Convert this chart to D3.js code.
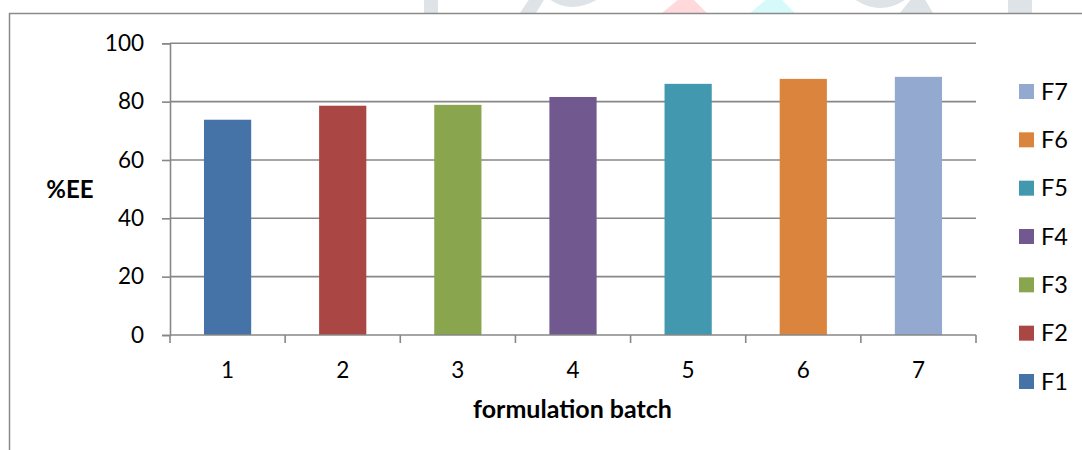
<!DOCTYPE html>
<html>
<head>
<meta charset="utf-8">
<script src="https://cdn.jsdelivr.net/npm/d3@7/dist/d3.min.js"></script>
<style>
  html, body { margin: 0; padding: 0; background: #ffffff; }
  svg { display: block; }
  text { font-family: Lato, "Open Sans", "Liberation Sans", sans-serif; fill: #000; }
</style>
</head>
<body>
<svg id="chart" width="1082" height="450"></svg>
<script>
// Entrapment efficiency per formulation batch
const batches = ["1", "2", "3", "4", "5", "6", "7"];
const seriesNames = ["F1", "F2", "F3", "F4", "F5", "F6", "F7"];
const eeValues = [73.8, 78.6, 78.9, 81.6, 86.1, 87.8, 88.5];
const seriesColors = ["#4572A7", "#AA4643", "#89A54E", "#71588F", "#4198AF", "#DB843D", "#93A9CF"];
const yTicks = [0, 20, 40, 60, 80, 100];

const svg = d3.select("#chart");

// faint page artwork peeking above the chart frame
const deco = svg.append("g");
deco.append("rect").attr("x", 424).attr("y", -2).attr("width", 14).attr("height", 15).attr("fill", "#dde3e6");
deco.append("polygon").attr("points", "520,13 530,-2 545,-2 536,13").attr("fill", "#dde3e6");
deco.append("path").attr("d", "M548,-2 Q570,16 600,-2 Z").attr("fill", "#dde3e6");
deco.append("polygon").attr("points", "662,13 680,-2 692,-2 707,13").attr("fill", "#ffd9dc");
deco.append("polygon").attr("points", "750,13 768,-2 780,-2 795,13").attr("fill", "#d6fafa");
deco.append("path").attr("d", "M853,-2 Q880,18 908,-2 Z").attr("fill", "#dde3e6");
deco.append("polygon").attr("points", "900,13 912,-2 924,-2 933,13").attr("fill", "#dde3e6");
deco.append("rect").attr("x", 1008).attr("y", -2).attr("width", 24).attr("height", 15).attr("fill", "#dde3e6");

// chart frame (top and left edges visible)
svg.append("line").attr("x1", 9).attr("x2", 1082).attr("y1", 13.5).attr("y2", 13.5)
  .attr("stroke", "#8a8a8a").attr("stroke-width", 1.5);
svg.append("line").attr("x1", 9.5).attr("x2", 9.5).attr("y1", 13).attr("y2", 450)
  .attr("stroke", "#8a8a8a").attr("stroke-width", 1.5);

const plot = { left: 170, right: 976, top: 43.3, bottom: 335 };

const x = d3.scaleBand().domain(batches).range([plot.left, plot.right]).paddingInner(0.59).paddingOuter(0.295);
const xTickScale = d3.scaleBand().domain(batches).range([plot.left, plot.right]);
const y = d3.scaleLinear().domain([0, 100]).range([plot.bottom, plot.top]);

// horizontal gridlines
svg.append("g").selectAll("line").data(yTicks.filter(t => t > 0)).join("line")
  .attr("x1", plot.left).attr("x2", plot.right)
  .attr("y1", d => y(d)).attr("y2", d => y(d))
  .attr("stroke", "#878787").attr("stroke-width", 1.6);

// bars
svg.append("g").selectAll("rect").data(eeValues).join("rect")
  .attr("x", (d, i) => x(batches[i]))
  .attr("width", x.bandwidth())
  .attr("y", d => y(d))
  .attr("height", d => y(0) - y(d))
  .attr("fill", (d, i) => seriesColors[i]);

// y axis
const yAxis = svg.append("g").attr("transform", `translate(${plot.left},0)`)
  .call(d3.axisLeft(y).tickValues(yTicks).tickSize(8).tickPadding(18).tickFormat(d3.format("d")));
yAxis.select(".domain").attr("stroke", "#878787").attr("stroke-width", 1.6);
yAxis.selectAll(".tick line").attr("stroke", "#878787").attr("stroke-width", 1.6);
yAxis.selectAll(".tick text").attr("font-size", 22.5).attr("font-family", "Lato, 'Open Sans', sans-serif").attr("fill", "#000");

// x axis: category boundaries as tick marks, labels centred in each band
const boundaries = batches.map(b => xTickScale(b)).concat([plot.right]);
const xAxisG = svg.append("g");
xAxisG.append("line").attr("x1", plot.left).attr("x2", plot.right)
  .attr("y1", plot.bottom).attr("y2", plot.bottom)
  .attr("stroke", "#878787").attr("stroke-width", 1.6);
xAxisG.selectAll("line.tk").data(boundaries).join("line").attr("class", "tk")
  .attr("x1", d => d).attr("x2", d => d)
  .attr("y1", plot.bottom).attr("y2", plot.bottom + 8)
  .attr("stroke", "#878787").attr("stroke-width", 1.6);
xAxisG.selectAll("text").data(batches).join("text")
  .attr("x", d => xTickScale(d) + xTickScale.bandwidth() / 2)
  .attr("y", 378)
  .attr("text-anchor", "middle")
  .attr("font-size", 22.5)
  .text(d => d);

// axis titles
svg.append("text").attr("x", 572.5).attr("y", 418).attr("text-anchor", "middle")
  .attr("font-size", 25).attr("font-weight", "bold").text("formulation batch");
svg.append("text").attr("x", 70).attr("y", 198).attr("text-anchor", "middle")
  .attr("font-size", 24).attr("font-weight", "bold").text("%EE");

// legend, last series on top
const legendOrder = seriesNames.map((n, i) => i).reverse();
const legend = svg.append("g");
const ly = d3.scalePoint().domain(legendOrder).range([91.5, 381.5]);
legendOrder.forEach(i => {
  legend.append("rect").attr("x", 1019).attr("y", ly(i) - 7.5).attr("width", 15).attr("height", 15)
    .attr("fill", seriesColors[i]);
  legend.append("text").attr("x", 1041).attr("y", ly(i) + 8).attr("font-size", 23.5).text(seriesNames[i]);
});
</script>
</body>
</html>
